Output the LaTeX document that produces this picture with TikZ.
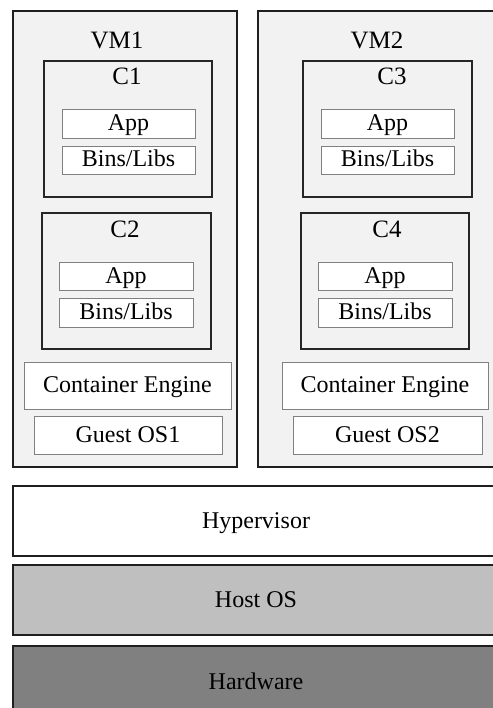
\documentclass[tikz,border=0pt]{standalone}
\usepackage{fontspec}
\setmainfont{Liberation Serif}
\begin{document}
\begin{tikzpicture}[x=1pt,y=-1pt,
  every node/.style={inner sep=0pt, outer sep=0pt, text height=16pt, text depth=2pt,
    font=\fontsize{24}{27}\selectfont},
  vmbox/.style={draw=black!88, line width=1.3pt, fill=black!5},
  ctbox/.style={draw=black!85, line width=1.3pt, fill=black!5},
  layer/.style={draw=black!50, line width=0.8pt, fill=white},
  base/.style={draw=black!88, line width=1.4pt},
  title/.style={font=\fontsize{25}{28}\selectfont}]
  \useasboundingbox (0,0) rectangle (492,708);

  % virtual machines
  \node[vmbox, minimum width=224, minimum height=456] (vm1) at (125,239) {};
  \node[vmbox, minimum width=240, minimum height=456] (vm2) at (378,239) {};
  \node[title] (vm1t) at (117,42) {VM1};
  \node[title] (vm2t) at (377,42) {VM2};

  % containers in VM1
  \node[ctbox, minimum width=168, minimum height=136] (c1) at (128,129) {};
  \node[title] (c1t) at (127,78) {C1};
  \node[layer, minimum width=133, minimum height=29] (app1) at (128.5,123.5) {App};
  \node[layer, minimum width=133, minimum height=28] (libs1) at (128.5,160) {Bins/Libs};

  \node[ctbox, minimum width=169, minimum height=136] (c2) at (126.5,281) {};
  \node[title] (c2t) at (125,231) {C2};
  \node[layer, minimum width=134, minimum height=28] (app2) at (126,276) {App};
  \node[layer, minimum width=134, minimum height=29] (libs2) at (126,312.5) {Bins/Libs};

  \node[layer, minimum width=207, minimum height=47] (eng1) at (127.5,385.5) {Container Engine};
  \node[layer, minimum width=188, minimum height=38] (gos1) at (128,435) {Guest OS1};

  % containers in VM2
  \node[ctbox, minimum width=169, minimum height=136] (c3) at (387.5,129) {};
  \node[title] (c3t) at (392,78) {C3};
  \node[layer, minimum width=133, minimum height=29] (app3) at (387.5,123.5) {App};
  \node[layer, minimum width=133, minimum height=28] (libs3) at (387.5,160) {Bins/Libs};

  \node[ctbox, minimum width=168, minimum height=136] (c4) at (385,281) {};
  \node[title] (c4t) at (387,231) {C4};
  \node[layer, minimum width=134, minimum height=28] (app4) at (385,276) {App};
  \node[layer, minimum width=134, minimum height=29] (libs4) at (385,312.5) {Bins/Libs};

  \node[layer, minimum width=206, minimum height=47] (eng2) at (385,385.5) {Container Engine};
  \node[layer, minimum width=189, minimum height=38] (gos2) at (387.5,435) {Guest OS2};

  % shared layers
  \node[base, fill=white, minimum width=486, minimum height=70] (hyp) at (256,521) {Hypervisor};
  \node[base, fill=black!25, minimum width=486, minimum height=70] (hos) at (256,600) {Host OS};
  \node[base, fill=black!50, minimum width=486, minimum height=72] (hw) at (256,682) {Hardware};
\end{tikzpicture}
\end{document}
